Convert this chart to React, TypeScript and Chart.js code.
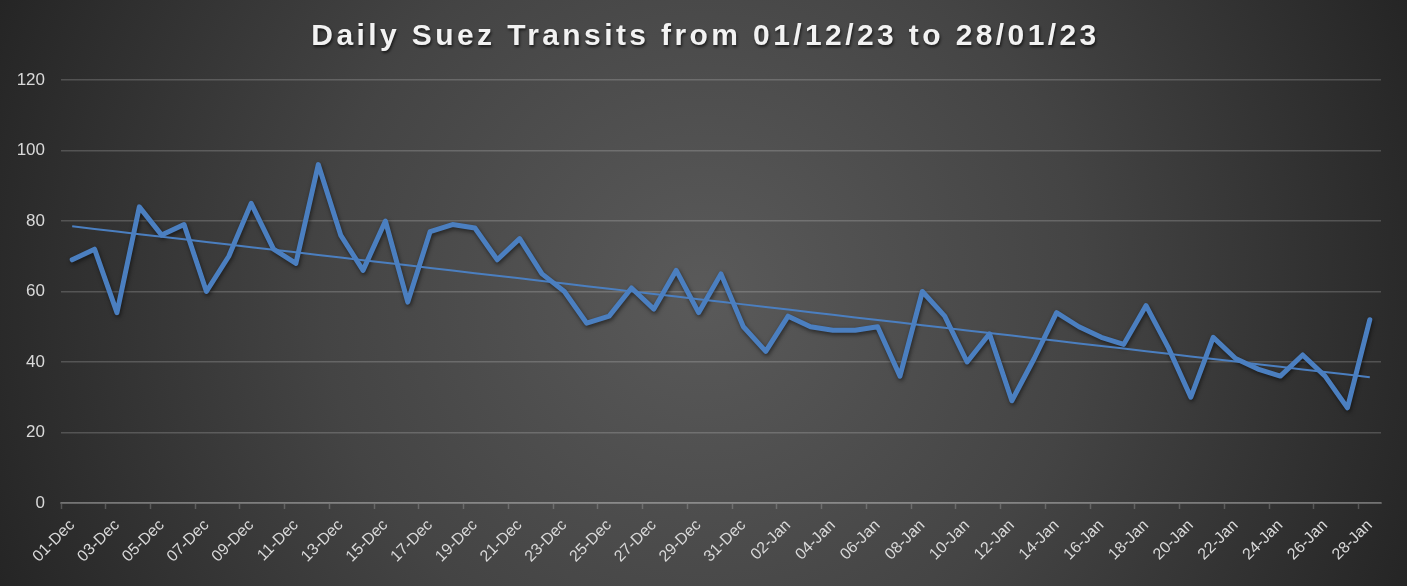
import { useEffect, useRef } from 'react';
import { Chart, registerables } from 'chart.js';

Chart.register(...registerables);

const titleText = 'Daily Suez Transits from 01/12/23 to 28/01/23';

const categories = [
  '01-Dec', '02-Dec', '03-Dec', '04-Dec', '05-Dec', '06-Dec', '07-Dec', '08-Dec', '09-Dec', '10-Dec',
  '11-Dec', '12-Dec', '13-Dec', '14-Dec', '15-Dec', '16-Dec', '17-Dec', '18-Dec', '19-Dec', '20-Dec',
  '21-Dec', '22-Dec', '23-Dec', '24-Dec', '25-Dec', '26-Dec', '27-Dec', '28-Dec', '29-Dec', '30-Dec',
  '31-Dec', '01-Jan', '02-Jan', '03-Jan', '04-Jan', '05-Jan', '06-Jan', '07-Jan', '08-Jan', '09-Jan',
  '10-Jan', '11-Jan', '12-Jan', '13-Jan', '14-Jan', '15-Jan', '16-Jan', '17-Jan', '18-Jan', '19-Jan',
  '20-Jan', '21-Jan', '22-Jan', '23-Jan', '24-Jan', '25-Jan', '26-Jan', '27-Jan', '28-Jan',
];

const transits = [
  69, 72, 54, 84, 76, 79, 60, 70, 85, 72,
  68, 96, 76, 66, 80, 57, 77, 79, 78, 69,
  75, 65, 60, 51, 53, 61, 55, 66, 54, 65,
  50, 43, 53, 50, 49, 49, 50, 36, 60, 53,
  40, 48, 29, 41, 54, 50, 47, 45, 56, 44,
  30, 47, 41, 38, 36, 42, 36, 27, 52,
];

const yTicks = [0, 20, 40, 60, 80, 100, 120];

// Least-squares linear trendline derived from the series (like Excel's "Linear" trendline)
function linearTrend(values: number[]): number[] {
  const n = values.length;
  let sx = 0, sy = 0, sxy = 0, sxx = 0;
  values.forEach((v, i) => {
    sx += i; sy += v; sxy += i * v; sxx += i * i;
  });
  const b = (n * sxy - sx * sy) / (n * sxx - sx * sx);
  const a = (sy - b * sx) / n;
  return values.map((_, i) => a + b * i);
}

const FONT = '"Liberation Sans", Arial, Helvetica, sans-serif';
const LINE_BLUE = '#4b7fc0';

const backgroundAndTitle = {
  id: 'backgroundAndTitle',
  beforeDraw(chart: any) {
    const { ctx, width, height } = chart;
    ctx.save();
    const cx = width * 0.5;
    const cy = height * 0.5;
    const r = Math.sqrt(cx * cx + cy * cy);
    const g = ctx.createRadialGradient(cx, cy, 0, cx, cy, r);
    g.addColorStop(0, '#5a5a5a');
    g.addColorStop(0.5, '#444444');
    g.addColorStop(0.92, '#2a2a2a');
    g.addColorStop(1, '#252525');
    ctx.fillStyle = g;
    ctx.fillRect(0, 0, width, height);

    ctx.font = `bold 30px ${FONT}`;
    (ctx as any).letterSpacing = '3.4px';
    ctx.textAlign = 'center';
    ctx.textBaseline = 'alphabetic';
    ctx.shadowColor = 'rgba(0,0,0,0.65)';
    ctx.shadowBlur = 3;
    ctx.shadowOffsetX = 1;
    ctx.shadowOffsetY = 2;
    ctx.fillStyle = '#f2f2f2';
    ctx.fillText(titleText, width / 2 + 2, 45);
    ctx.restore();
  },
};

const lineShadow = {
  id: 'lineShadow',
  beforeDatasetDraw(chart: any, args: any) {
    if (args.meta.label !== 'Transits') return;
    const ctx = chart.ctx;
    ctx.save();
    ctx.shadowColor = 'rgba(0,0,0,0.55)';
    ctx.shadowBlur = 4;
    ctx.shadowOffsetX = 1;
    ctx.shadowOffsetY = 2;
  },
  afterDatasetDraw(chart: any, args: any) {
    if (args.meta.label !== 'Transits') return;
    chart.ctx.restore();
  },
};

export default function App() {
  const ref = useRef<HTMLCanvasElement | null>(null);

  useEffect(() => {
    if (!ref.current) return;
    const trend = linearTrend(transits);
    const chart = new Chart(ref.current, {
      type: 'line',
      data: {
        labels: categories,
        datasets: [
          {
            label: 'Linear trend',
            data: trend,
            borderColor: LINE_BLUE,
            borderWidth: 2,
            pointRadius: 0,
            tension: 0,
            order: 0,
          },
          {
            label: 'Transits',
            data: transits,
            borderColor: LINE_BLUE,
            borderWidth: 5,
            borderJoinStyle: 'round',
            borderCapStyle: 'round',
            pointRadius: 0,
            tension: 0,
            order: 1,
          },
        ],
      },
      options: {
        responsive: false,
        animation: false,
        devicePixelRatio: 1,
        layout: { padding: { top: 80, left: 0, right: 26, bottom: 0 } },
        plugins: {
          legend: { display: false },
          title: { display: false },
          tooltip: { enabled: false },
        },
        scales: {
          x: {
            type: 'category',
            offset: true,
            afterFit(scale: any) {
              scale.height = 83;
            },
            grid: {
              offset: true,
              drawOnChartArea: false,
              drawTicks: true,
              tickLength: 6,
              tickWidth: 1.5,
              tickColor: (c: any) => (c.index % 2 === 0 ? 'rgba(255,255,255,0.2)' : 'rgba(0,0,0,0)'),
            },
            border: { display: true, color: 'rgba(255,255,255,0.2)', width: 2 },
            ticks: {
              autoSkip: false,
              maxRotation: 45,
              minRotation: 45,
              padding: 7,
              color: '#d9d9d9',
              font: { family: FONT, size: 16 },
              callback: (_v: any, i: number) => (i % 2 === 0 ? categories[i] : ''),
            },
          },
          y: {
            min: 0,
            max: 120,
            afterBuildTicks(scale: any) {
              scale.ticks = yTicks.map((v) => ({ value: v }));
            },
            afterFit(scale: any) {
              scale.width = 61;
            },
            grid: {
              color: 'rgba(255,255,255,0.18)',
              lineWidth: 1.5,
              drawTicks: false,
            },
            border: { display: false },
            ticks: {
              padding: 16,
              color: '#d9d9d9',
              font: { family: FONT, size: 17 },
            },
          },
        },
      },
      plugins: [backgroundAndTitle, lineShadow],
    } as any);
    return () => chart.destroy();
  }, []);

  return (
    <div style={{ position: 'fixed', left: 0, top: 0, width: 1407, height: 586, overflow: 'hidden' }}>
      <canvas ref={ref} width={1407} height={586} style={{ display: 'block' }} />
    </div>
  );
}
